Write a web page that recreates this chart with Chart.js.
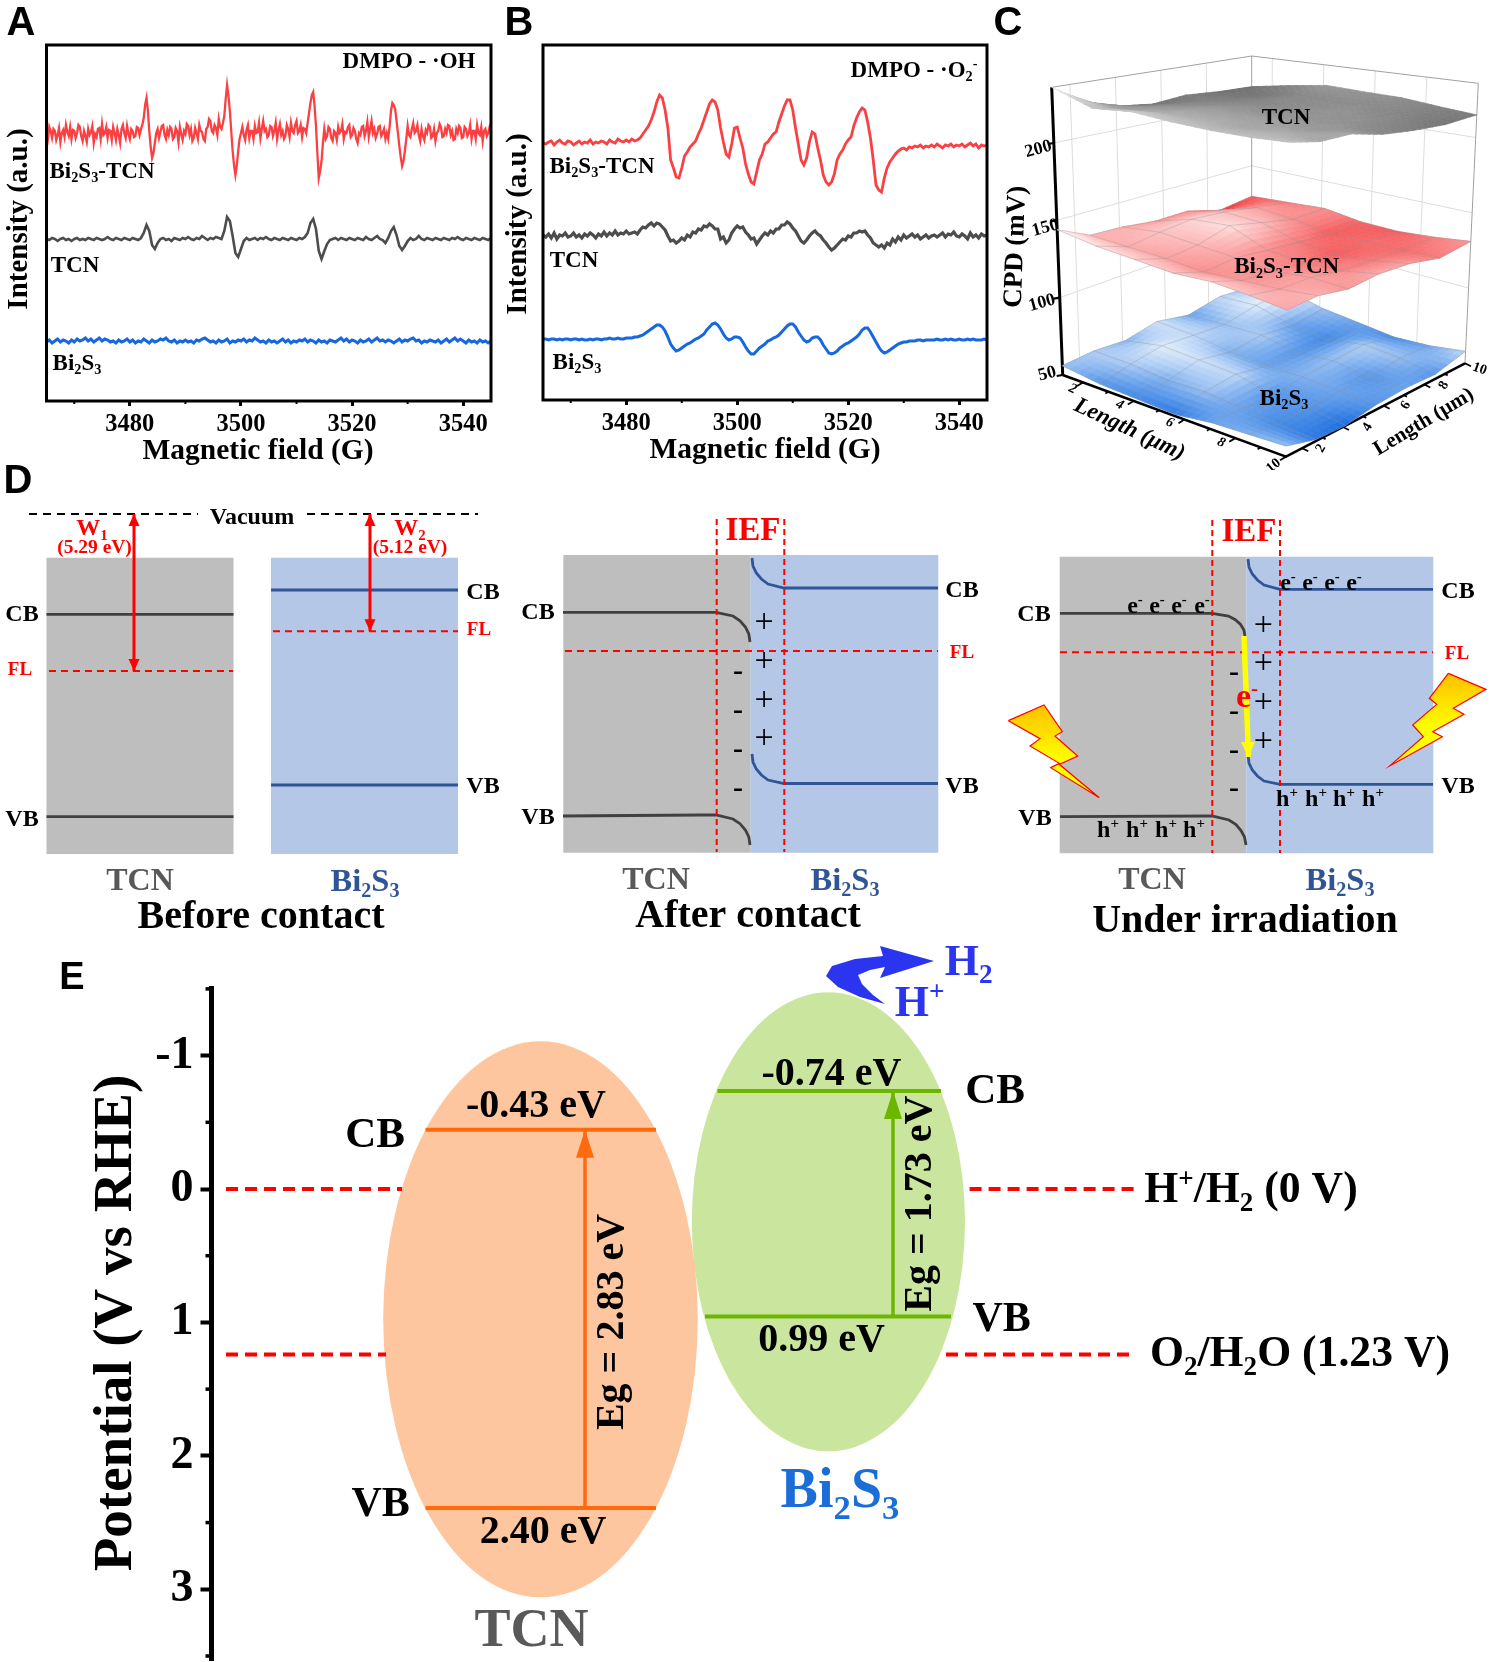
<!DOCTYPE html>
<html><head><meta charset="utf-8">
<script src="https://cdn.jsdelivr.net/npm/chart.js@4/dist/chart.umd.min.js"></script>
<style>html,body{margin:0;padding:0;background:#fff;width:1499px;height:1662px;overflow:hidden}canvas{position:absolute;display:block}</style>
</head><body>
<script>
// ---------- DATA: panel A & B (intensity in a.u., one value per fieldStep from 3465 G) ----------
const fieldStart = 3465, fieldStep = 0.5, fieldStepFine = 0.25;
const fieldTicks = [3480,3500,3520,3540];
const fieldMinorTicks = [3470,3490,3510,3530];
const aBiTcn = [268,262,274,270,263,272,270,261,266,273,259,268,271,264,276,269,265,274,262,271,
270,263,268,276,274,265,260,270,265,259,272,266,269,275,258,267,264,272,273,262,
277,266,268,274,263,271,270,261,274,268,261,272,266,258,272,276,268,263,275,267,
262,272,270,264,265,274,273,266,272,276,283,296,303,290,270,254,243,248,258,268,
272,263,269,275,276,266,262,271,266,274,272,262,264,273,270,259,274,267,261,270,
267,277,275,266,272,260,263,273,268,262,276,270,269,262,260,272,274,282,280,270,
268,276,273,266,282,274,272,278,285,302,316,305,290,270,250,236,226,236,250,262,
268,274,266,261,271,276,263,270,270,262,275,268,269,278,263,272,280,270,272,264,
266,275,274,265,270,278,262,271,277,266,270,262,265,276,272,264,278,270,268,276,
280,268,270,276,264,273,272,268,278,288,298,306,309,295,275,248,223,230,240,258,
272,262,265,274,272,263,260,270,268,261,274,268,270,277,262,269,268,274,276,264,
266,273,270,262,258,268,266,274,275,265,270,279,264,272,280,268,272,263,267,274,
275,265,268,272,262,268,262,274,290,298,296,292,280,268,255,244,235,240,250,262,
275,266,264,272,278,268,270,276,266,260,272,265,261,271,268,276,274,263,265,272,
260,268,270,277,274,264,265,272,268,276,275,266,270,261,262,272,268,275,273,263,
264,274,272,265,268,276,262,270,270,262,276,268,266,274,260,270,272,265,268,274,270];
const aTcn = [162,161,163,162,160,162,163,161,162,160,
162,163,161,162,161,163,162,161,163,162,
161,162,164,162,161,163,162,161,163,162,
161,163,162,161,163,168,176,170,156,152,
158,162,163,161,162,160,163,162,161,163,
162,164,162,161,163,162,165,163,161,163,
162,164,163,162,170,184,180,165,148,144,
152,160,163,161,162,163,161,163,162,164,
162,161,163,162,161,163,162,161,163,162,
161,163,162,164,168,178,182,172,150,142,
150,157,161,162,163,161,163,162,161,163,
162,161,163,162,161,164,162,161,163,165,
162,161,158,163,170,174,166,155,151,155,
160,163,161,162,165,162,161,163,162,161,
163,162,161,163,162,161,163,162,164,162,
161,163,162,161,163,162,161,163,162,161,163];
const aBi = [59,61,58,60,62,59,61,60,58,61,
59,62,60,61,63,60,62,59,61,63,
60,62,61,59,60,58,61,59,60,62,
59,61,58,60,59,62,60,58,61,59,
60,62,61,63,60,59,61,58,60,59,
61,59,60,58,61,60,62,63,61,59,
60,58,61,59,60,62,58,60,59,61,
60,62,59,61,60,63,61,59,60,58,
61,59,60,58,60,62,59,61,58,60,
59,61,60,62,59,61,60,58,61,59,
60,58,61,60,59,61,63,60,62,59,
61,60,58,61,59,60,62,59,61,63,
60,61,59,61,60,58,60,62,59,61,
60,62,63,60,61,58,60,59,61,60,
59,61,58,60,62,59,61,63,60,62,
60,58,61,59,60,58,61,59,60,58,60];
const bBiTcn = [257,256,258,259,255,258,260,257,256,259,
258,255,257,259,256,258,257,260,256,258,
257,259,258,256,260,258,257,261,259,258,
260,258,261,259,260,262,266,270,274,280,
288,298,305,302,290,272,240,232,223,222,
232,244,248,253,256,259,266,272,280,288,
296,300,298,290,272,258,246,243,256,272,
273,262,252,236,226,218,216,228,240,246,
256,258,262,266,268,278,286,294,300,300,
290,272,256,240,235,242,258,268,266,252,
240,225,218,215,218,226,240,246,250,256,
260,263,274,282,288,292,290,278,262,240,
215,210,208,222,232,238,242,246,249,251,
252,250,253,252,254,253,255,252,254,253,
255,253,256,254,252,255,254,256,253,255,
254,256,253,255,257,254,256,252,255,254,255];
const bTcn = [165,163,166,162,167,161,165,164,167,163,
164,167,163,165,162,166,164,167,165,162,
166,164,168,164,167,165,169,165,167,166,
169,166,167,168,166,170,173,172,175,177,
174,177,176,173,170,164,159,160,157,159,
162,160,165,163,168,167,171,170,174,173,
176,174,171,171,161,163,157,160,167,171,
174,172,173,168,165,161,162,156,160,164,
167,165,169,167,171,171,175,175,178,176,
172,169,164,159,157,160,164,167,169,166,
164,160,157,153,150,152,155,158,161,160,
164,163,167,167,169,168,169,165,162,157,
155,153,155,152,157,155,161,158,163,160,
165,162,164,166,163,165,161,163,165,162,
164,165,163,165,167,163,166,165,168,164,
163,166,164,161,167,163,165,162,166,164,165];
const bBi = [61,61,60,61,61,60,61,60,61,61,
60,61,61,60,61,60,60,61,60,61,
61,60,61,61,62,61,61,62,61,61,
62,62,62,63,63,64,65,67,69,71,
73,75,75,73,69,63,56,52,49,50,
52,54,56,57,59,61,62,64,66,70,
73,76,77,75,71,66,62,60,61,63,
63,62,58,53,49,46,46,49,52,54,
56,59,60,62,63,65,68,71,74,76,
76,73,68,64,60,58,59,62,63,63,
60,55,51,47,46,47,49,52,54,56,
57,59,61,63,66,70,72,72,68,63,
58,53,49,47,48,50,52,54,56,57,
58,58,59,59,59,60,60,59,60,60,
60,60,61,60,60,61,60,61,60,60,
61,60,60,61,60,61,60,60,60,61,60];

// ---------- DATA: panel C (CPD in mV on a 7x7 grid, rows along x, columns along y) ----------
const cTcn = [[236,223,216,213,215,213,212],[227,222,220,218,216,214,217],[229,224,222,220,218,218,221],[227,224,222,220,219,219,220],[226,223,222,220,220,219,219.5],[226,224,221,220,219,217,217],[227,223,223,218,215.5,214,215]];
const cBiTcn = [[144,134,133,130,130,123,126],[140,133,136,138,136,132,128],[138,132,134,140,135,130,130],[136,130,132,130,128,126,126.5],[137,131,130,128,126,127,126],[135,132,132,129,128,127,128],[132.5,134,131,133,132,128,131]];
const cBi = [[56,57,55,59,54,58,55],[53,57,60,58,56,60,61],[52,55,59,55,57,54,56],[51,56,58,54,53,52,54],[54,54,53,55,56,57,52],[55,52,53,54,53,56,54],[56,51,50,53,54,53,58]];
const cTicksZ = [50,100,150,200];
const cTicksLen = [2,3,4,5,6,7,8,9,10];

// ---------- DATA: panel D (schematic band levels) ----------
const dBefore = {tcnCB:614.3,tcnVB:816.7,tcnFL:671,biCB:590,biVB:785,biFL:631.3,vacuum:514};
const dAfterTcnCB=[[563,612.3],[716,612.3],[733,616],[740,620.8],[745.4,627],[748.8,634],[750,642]];
const dAfterTcnVB=[[563,816],[700,815],[716,815],[733,819],[740,823.7],[745.4,830],[748.8,837],[750,845]];
const dAfterBiCB=[[752,558],[753,566],[756.3,573],[761.4,579],[768,584],[784,588],[938,588]];
const dAfterBiVB=[[752,754],[753,762],[756.3,769],[761.4,775],[768,780],[784,783.5],[938,783.5]];
const dIrrTcnCB=[[1060,613.3],[1212,613.3],[1228.5,616],[1235.3,619.7],[1240.6,624.5],[1243.9,630],[1245,636]];
const dIrrTcnVB=[[1060,816.7],[1212,816],[1229,820],[1236,824.5],[1241,830.5],[1244.5,837],[1246,845]];
const dIrrBiCB=[[1248,559],[1249,567],[1252.3,574],[1257.4,580],[1264,585],[1280,589.3],[1433,589.3]];
const dIrrBiVB=[[1248,755],[1249,763],[1252.3,770],[1257.4,776],[1264,781],[1280,784.3],[1433,784.3]];

// ---------- DATA: panel E (potential vs RHE) ----------
const eTicks = [-1,0,1,2,3];
const eMinor = [-1.5,-0.5,0.5,1.5,2.5,3.5];
const eTcnCB = -0.445, eTcnVB = 2.39, eBiCB = -0.735, eBiVB = 0.956;
const eHydrogen = 0, eOxygen = 1.24;
const eTcnEllipse = [-1.107,3.06], eBiEllipse = [-1.475,1.966];

// ---------- helpers ----------
const SERIF='"Liberation Serif","Times New Roman",serif', SANS='"Liberation Sans",Arial,sans-serif';
const GREY='#595959', NAVY='#2f5597', RED='#ff0000';
const L=(arr,color,width,extra)=>Object.assign({data:arr.map(p=>({x:p[0],y:p[1]})),borderColor:color,borderWidth:width,pointRadius:0,fill:false,tension:0,clip:false,backgroundColor:'transparent'},extra||{});
function runs(s){const o=[];let b='';for(let i=0;i<s.length;i++){const c=s[i];if((c==='_'||c==='^')&&i+1<s.length){if(b){o.push({t:b,k:0});b='';}o.push({t:s[++i],k:c==='_'?1:2});}else b+=c;}if(b)o.push({t:b,k:0});return o;}
function drawText(ctx,a,ox,oy){
  const [s,x,y,size,opt={}]=a; const fam=opt.font||SERIF, pre=(opt.style||'')+' '+(opt.weight||'bold')+' ';
  const rs=runs(s); let w=0;
  for(const r of rs){r.size=r.k?size*0.62:size;ctx.font=pre+r.size+'px '+fam;r.w=ctx.measureText(r.t).width;w+=r.w;}
  ctx.save();ctx.translate(x-ox,y-oy);if(opt.rot)ctx.rotate(opt.rot*Math.PI/180);
  ctx.fillStyle=opt.color||'#000';ctx.textBaseline='alphabetic';ctx.textAlign='left';
  let cx=-w/2;const base=size*0.33;
  for(const r of rs){ctx.font=pre+r.size+'px '+fam;ctx.fillText(r.t,cx,base+(r.k===1?size*0.2:r.k===2?-size*0.36:0));cx+=r.w;}
  ctx.restore();
}
function canvasAt(x,y,w,h){const c=document.createElement('canvas');c.width=w;c.height=h;c.style.left=x+'px';c.style.top=y+'px';c.style.width=w+'px';c.style.height=h+'px';document.body.appendChild(c);return c;}
const baseOpts=()=>({responsive:false,animation:false,events:[],plugins:{legend:{display:false},tooltip:{enabled:false}},elements:{line:{capBezierPoints:false}}});
function hiddenScales(x,y,w,h){return {x:{type:'linear',display:false,min:x,max:x+w},y:{type:'linear',display:false,reverse:true,min:y,max:y+h}};}
function arrowsPlugin(){return {id:'arrows',afterDatasetsDraw(chart){const c=chart.ctx,X=chart.scales.x,Y=chart.scales.y;
  chart.data.datasets.forEach(d=>{
    if(d.poly){c.save();c.fillStyle=d.poly;c.beginPath();d.data.forEach((p,i)=>{const px=X.getPixelForValue(p.x),py=Y.getPixelForValue(p.y);i?c.lineTo(px,py):c.moveTo(px,py);});c.closePath();c.fill();c.restore();}
    if(!d.head)return;const pts=d.data;const tips=d.head.both?[[pts[0],pts[1]],[pts[pts.length-1],pts[pts.length-2]]]:[[pts[pts.length-1],pts[pts.length-2]]];
    for(const [t,f] of tips){const tx=X.getPixelForValue(t.x),ty=Y.getPixelForValue(t.y),fx=X.getPixelForValue(f.x),fy=Y.getPixelForValue(f.y);const ang=Math.atan2(ty-fy,tx-fx);
      c.save();c.translate(tx,ty);c.rotate(ang);c.fillStyle=d.borderColor;c.beginPath();c.moveTo(0,0);c.lineTo(-d.head.l,-d.head.w/2);c.lineTo(-d.head.l,d.head.w/2);c.closePath();c.fill();c.restore();}
  });}};}
function textPlugin(list,ox,oy){return {id:'texts',afterDatasetsDraw(chart){list.forEach(a=>drawText(chart.ctx,a,ox,oy));}};}

// ---------- panels A & B ----------
function epr(cfg){
  const cv=canvasAt(cfg.left,0,cfg.w,470);
  const toXY=(v,step)=>v.map((y,i)=>({x:fieldStart+i*step,y}));
  const tickFont={family:SERIF,size:24.5,weight:'bold'};
  const framePlugin={id:'frame',afterDatasetsDraw(chart){const c=chart.ctx,a=chart.chartArea,X=chart.scales.x;c.save();c.strokeStyle='#000';c.lineWidth=3;c.strokeRect(a.left,a.top,a.right-a.left,a.bottom-a.top);
    c.lineWidth=2;fieldMinorTicks.forEach(v=>{const p=X.getPixelForValue(v);c.beginPath();c.moveTo(p,a.bottom);c.lineTo(p,a.bottom+3);c.stroke();});c.restore();}};
  new Chart(cv,{type:'line',data:{datasets:[
    {label:'Bi2S3-TCN',data:toXY(cfg.red,cfg.redStep),borderColor:'#f94144',borderWidth:cfg.redWidth,pointRadius:0,tension:0},
    {label:'TCN',data:toXY(cfg.grey,fieldStep),borderColor:'#4d4d4d',borderWidth:cfg.greyWidth,pointRadius:0,tension:0},
    {label:'Bi2S3',data:toXY(cfg.blue,fieldStep),borderColor:'#1768e0',borderWidth:3,pointRadius:0,tension:0}]},
   options:Object.assign(baseOpts(),{layout:{padding:{top:45,right:cfg.right,left:0,bottom:0}},
    scales:{
     x:{type:'linear',min:3465,max:3545,afterBuildTicks:s=>{s.ticks=fieldTicks.map(v=>({value:v}));},afterFit:s=>{s.height=470-cfg.bottom;},
        border:{display:false},grid:{drawOnChartArea:false,tickLength:5,tickWidth:3,tickColor:'#000'},
        ticks:{color:'#000',font:tickFont,padding:4,autoSkip:false,maxRotation:0,callback:v=>String(v)}},
     y:{type:'linear',min:0,max:cfg.bottom-45,afterFit:s=>{s.width=cfg.plotLeft-cfg.left;},border:{display:false},grid:{display:false},ticks:{display:false}}
    }}),
   plugins:[framePlugin,textPlugin(cfg.texts,cfg.left,0)]});
}
epr({left:0,w:500,plotLeft:46.5,right:9,bottom:401,red:aBiTcn,redStep:fieldStepFine,redWidth:2.3,greyWidth:2.6,grey:aTcn,blue:aBi,texts:[
 ['A',21,21.5,40,{font:SANS}],
 ['Magnetic field (G)',258,449,29.5],['Intensity (a.u.)',17,219,29,{rot:-90}],
 ['DMPO - ·OH',409,60,23],['Bi_2S_3-TCN',102,170,23],['TCN',75,264,23],['Bi_2S_3',77,362,23]]});
epr({left:500,w:500,plotLeft:543,right:13,bottom:400,red:bBiTcn,redStep:fieldStep,redWidth:2.8,greyWidth:3.2,grey:bTcn,blue:bBi,texts:[
 ['B',519,22,40,{font:SANS}],
 ['Magnetic field (G)',765,448,29.5],['Intensity (a.u.)',516,224,29,{rot:-90}],
 ['DMPO - ·O_2^-',914,69,23],['Bi_2S_3-TCN',602,165,23],['TCN',574,259,23],['Bi_2S_3',577,361,23]]});

// ---------- panel C ----------
(function(){
 const ox=990,oy=0,w=509,h=470,cv=canvasAt(ox,oy,w,h);
 const zLo=50,zHi=236;
 const fl={L:[1062.7,375],F:[1286,456.7],R:[1465,363.3],B:[1251.7,293.3]};
 const tp={L:[1051.7,87.3],F:[1289,126.3],R:[1478.3,83.3],B:[1251.7,56]};
 const bil=(q,s,t,k)=>(1-s)*(1-t)*q.L[k]+s*(1-t)*q.F[k]+s*t*q.R[k]+(1-s)*t*q.B[k];
 const proj=(s,t,z)=>{const m=(z-zLo)/(zHi-zLo);return [bil(fl,s,t,0)*(1-m)+bil(tp,s,t,0)*m,bil(fl,s,t,1)*(1-m)+bil(tp,s,t,1)*m];};
 const lenS=v=>(v-1.2)/8.8;
 const hex=h=>[1,3,5].map(i=>parseInt(h.substr(i,2),16));
 const colorOf=(stops,z)=>{if(z<=stops[0][0])return stops[0][1];for(let i=1;i<stops.length;i++){if(z<=stops[i][0]){const f=(z-stops[i-1][0])/(stops[i][0]-stops[i-1][0]),a=hex(stops[i-1][1]),b=hex(stops[i][1]);return 'rgb('+a.map((v,k)=>Math.round(v+(b[k]-v)*f)).join(',')+')';}}return stops[stops.length-1][1];};
 const surfaces={
  blue:{z:cBi,stops:[[50,'#1b6fe0'],[54,'#6ba3ec'],[57,'#aecdf4'],[61,'#f2f7fd']]},
  red:{z:cBiTcn,stops:[[124,'#f23c40'],[128,'#f77c7c'],[134,'#fcb4b4'],[140,'#fde0e0'],[145,'#fff4f4']]},
  grey:{z:cTcn,stops:[[212,'#6e6e6e'],[219,'#8c8c8c'],[226,'#bdbdbd'],[236,'#f0f0f0']]}};
 const n=6,sub=5;
 function paint(chart,sf){const c=chart.ctx,X=chart.scales.x,Y=chart.scales.y,Z=sf.z;c.save();c.lineWidth=0.7;c.lineJoin='round';
  for(let i=0;i<n;i++)for(let j=n-1;j>=0;j--)for(let a=0;a<sub;a++)for(let b=sub-1;b>=0;b--){
    const zAt=(u,v)=>Z[i][j]*(1-u)*(1-v)+Z[i+1][j]*u*(1-v)+Z[i+1][j+1]*u*v+Z[i][j+1]*(1-u)*v;
    const cr=[[a,b],[a+1,b],[a+1,b+1],[a,b+1]].map(([p,q])=>{const u=p/sub,v=q/sub,P=proj((i+u)/n,(j+v)/n,zAt(u,v));return [X.getPixelForValue(P[0]),Y.getPixelForValue(P[1])];});
    const col=colorOf(sf.stops,zAt((a+.5)/sub,(b+.5)/sub));
    c.fillStyle=col;c.strokeStyle=col;c.beginPath();cr.forEach((p,k)=>k?c.lineTo(p[0],p[1]):c.moveTo(p[0],p[1]));c.closePath();c.fill();c.stroke();
  }c.restore();}
 const drawOrder=[];
 const wall='#dddddd',edge='#a0a0a0';
 cTicksZ.slice(1).forEach(z=>{drawOrder.push(L([proj(0,0,z),proj(0,1,z),proj(1,1,z)],wall,1));});
 [2,4,6,8].forEach(v=>{const q=lenS(v);drawOrder.push(L([proj(0,q,zLo+2),proj(0,q,zHi)],wall,1));drawOrder.push(L([proj(q,1,zLo+2),proj(q,1,zHi)],wall,1));});
 drawOrder.push(L([proj(0,0,zHi),proj(0,1,zHi),proj(1,1,zHi)],edge,1));
 drawOrder.push(L([proj(0,1,zLo),proj(0,1,zHi)],edge,1));
 drawOrder.push(L([proj(1,1,zLo),proj(1,1,zHi)],edge,1));
 drawOrder.push(L([proj(0,0,zLo),proj(0,0,zHi)],'#000',3));
 drawOrder.push(L([proj(0,0,zLo),proj(1,0,zLo),proj(1,1,zLo)],'#000',2.5));
 cTicksZ.forEach(z=>{const p=proj(0,0,z);drawOrder.push(L([[p[0]-6,p[1]+1],p],'#000',2.2));});
 cTicksLen.forEach(v=>{const q=lenS(v),e=v%2?3:6;let p=proj(q,0,zLo);drawOrder.push(L([p,[p[0]-e,p[1]+e*.6]],'#000',1.8));p=proj(1,q,zLo);drawOrder.push(L([p,[p[0]+e,p[1]+e*.5]],'#000',1.8));});
 function addSurface(sf,lines){
  const Z=sf.z,outline=[];
  for(let j=0;j<=n;j++)outline.push(proj(0,j/n,Z[0][j]));
  drawOrder.push(L(outline,'transparent',0,{paintSurface:sf}));
  if(lines){for(let i=0;i<=n;i++){const a=[],b=[];for(let j=0;j<=n;j++){a.push(proj(i/n,j/n,Z[i][j]));b.push(proj(j/n,i/n,Z[j][i]));}
    drawOrder.push(L(a,'rgba(140,140,140,0.42)',0.8));drawOrder.push(L(b,'rgba(140,140,140,0.42)',0.8));}}
 }
 addSurface(surfaces.blue,true);addSurface(surfaces.red,true);addSurface(surfaces.grey,false);
 const painter={id:'painter',beforeDatasetDraw(chart,args){const d=chart.data.datasets[args.index];if(d.paintSurface)paint(chart,d.paintSurface);}};
 const texts=[['C',1008,22,40,{font:SANS}],['TCN',1286,116.7,23],['Bi_2S_3-TCN',1286.7,265.7,23],['Bi_2S_3',1284,397,23],
  ['200',1038,148,18,{rot:-15}],['150',1045,226.7,18,{rot:-15}],['100',1041.7,301.7,18,{rot:-15}],['50',1047,372.7,18,{rot:-15}],
  ['CPD (mV)',1014,246.7,27,{rot:-88}],
  ['2',1073,388,14,{rot:25,style:'italic'}],['4',1120,404,14,{rot:25,style:'italic'}],['6',1170,421.7,14,{rot:25,style:'italic'}],['8',1221.7,441.7,14,{rot:25,style:'italic'}],['10',1273,465,14,{rot:-40}],
  ['2',1320,448,14,{rot:-60}],['4',1366.7,426.7,14,{rot:-60}],['6',1405,405,14,{rot:-60}],['8',1443,385,14,{rot:-60}],['10',1480,368,14,{rot:20}],
  ['Length (μm)',1130,428,23,{rot:25,style:'italic'}],['Length (μm)',1423,420.7,21,{rot:-31}]];
 new Chart(cv,{type:'line',data:{datasets:drawOrder.slice().reverse()},options:Object.assign(baseOpts(),{layout:{padding:0},scales:hiddenScales(ox,oy,w,h)}),plugins:[painter,textPlugin(texts,ox,oy)]});
})();

// ---------- panel D ----------
(function(){
 const ox=0,oy=460,w=1499,h=480,cv=canvasAt(ox,oy,w,h);
 const rect=(x0,x1,y0,y1,col)=>L([[x0,y0],[x1,y0],[x1,y1],[x0,y1],[x0,y0]],col,0,{fill:'shape',backgroundColor:col,borderColor:col});
 const G='#bebebe',B='#b4c7e7',LK='#404040',dash=[7,5],lw=2.8,rw=2;
 const D=[];
 D.push(rect(46.5,233.5,557.7,854,G),rect(271,458,557.7,854,B),rect(563.3,750.7,555,852.7,G),rect(750.7,938.3,555,852.7,B),rect(1059.7,1246.3,556.7,853.3,G),rect(1246.3,1433.3,556.7,853.3,B));
 const v=dBefore;
 D.push(L([[46.5,v.tcnCB],[233.5,v.tcnCB]],LK,lw),L([[46.5,v.tcnVB],[233.5,v.tcnVB]],LK,lw),L([[271,v.biCB],[458,v.biCB]],NAVY,lw),L([[271,v.biVB],[458,v.biVB]],NAVY,lw));
 D.push(L([[49,v.tcnFL],[233,v.tcnFL]],RED,rw,{borderDash:dash}),L([[273,v.biFL],[458,v.biFL]],RED,rw,{borderDash:dash}));
 D.push(L([[29,v.vacuum],[198,v.vacuum]],'#000',1.8,{borderDash:[8,6]}),L([[307,v.vacuum],[478,v.vacuum]],'#000',1.8,{borderDash:[8,6]}));
 D.push(L([[134,v.vacuum],[134,v.tcnFL]],RED,3,{head:{both:true,w:11,l:12}}),L([[370,v.vacuum],[370,v.biFL]],RED,3,{head:{both:true,w:11,l:12}}));
 D.push(L(dAfterTcnCB,LK,lw),L(dAfterTcnVB,LK,lw),L(dAfterBiCB,NAVY,lw),L(dAfterBiVB,NAVY,lw));
 D.push(L(dIrrTcnCB,LK,lw),L(dIrrTcnVB,LK,lw),L(dIrrBiCB,NAVY,lw),L(dIrrBiVB,NAVY,lw));
 D.push(L([[565,651],[938,651]],RED,rw,{borderDash:dash}),L([[1060,652.3],[1433,652.3]],RED,rw,{borderDash:dash}));
 [[716.7,519,852],[784.3,519,852],[1212.3,520,853],[1280,520,853]].forEach(a=>D.push(L([[a[0],a[1]],[a[0],a[2]]],RED,rw,{borderDash:[6,4]})));
 D.push(L([[1244,636],[1248.5,757]],'#ffff00',5.5,{head:{w:14,l:15}}));
 const boltGrad=(y0,y1)=>ctx=>{const c=ctx.chart.ctx;const g=c.createLinearGradient(0,y0-oy,0,y1-oy);g.addColorStop(0,'#ffc000');g.addColorStop(.6,'#ffff00');g.addColorStop(1,'#ffff00');return g;};
 const boltL=[[25,752],[132,705],[187,785],[165,798],[233,858],[178,883],[298,983],[152,893],[178,880],[90,828],[120,806],[25,752]].map(p=>[1000+p[0]/3,470+p[1]/3]);
 const boltR=[[1345,610],[1458,658],[1360,715],[1392,733],[1298,785],[1327,800],[1170,887],[1270,800],[1238,765],[1310,703],[1288,685],[1345,610]].map(p=>[1000+p[0]/3,470+p[1]/3]);
 D.push(L(boltL,RED,1.2,{fill:'shape',backgroundColor:boltGrad(705/3+470,983/3+470)}),L(boltR,RED,1.2,{fill:'shape',backgroundColor:boltGrad(610/3+470,887/3+470)}));
 const texts=[['D',18,480,40,{font:SANS}],
  ['Vacuum',252,516,24],['W_1',92,527,24,{color:RED}],['(5.29 eV)',94.5,547,19.5,{color:RED}],['W_2',410,527,24,{color:RED}],['(5.12 eV)',410,547,19.5,{color:RED}],
  ['CB',22,613,24],['VB',22,818,24],['FL',20,669,19,{color:RED}],['CB',483,591,24],['FL',479,629,19,{color:RED}],['VB',483,785,24],
  ['TCN',140,879,32,{color:GREY}],['Bi_2S_3',365,880,32.5,{color:NAVY}],['Before contact',261,915,40],
  ['IEF',753,529,33,{color:RED}],['CB',538,611,24],['VB',538,816,24],['CB',962,589,24],['VB',962,785,24],['FL',962,652,19,{color:RED}],
  ['TCN',656,878,32,{color:GREY}],['Bi_2S_3',845,879,32.5,{color:NAVY}],['After contact',748,914,40],
  ['IEF',1249,530,33,{color:RED}],['CB',1034,613,24],['VB',1035,817,24],['CB',1458,590,24],['VB',1458,785,24],['FL',1457,653,19,{color:RED}],
  ['TCN',1152,878,32,{color:GREY}],['Bi_2S_3',1340,879,32.5,{color:NAVY}],['Under irradiation',1245,919,40]];
 [[764,620],[764,659],[764,698],[764,736],[1263.3,623],[1263.3,661],[1263.3,700],[1263.3,739]].forEach(p=>texts.push(['+',p[0],p[1]+1,34,{weight:'normal'}]));
 [[738,674],[738,713],[738,752],[738,791],[1234,675],[1234,714],[1234,753],[1234,791]].forEach(p=>texts.push(['-',p[0],p[1]-4,30]));
 [1135,1157,1179,1202,1288,1310,1332,1354].forEach((x,i)=>texts.push(['e^-',x,i<4?605:581.7,24]));
 [1108,1137,1166,1194,1287,1316,1344,1373].forEach((x,i)=>texts.push(['h^+',x,i<4?829:798,24]));
 texts.push(['e^-',1247,696,34,{color:RED}]);
 new Chart(cv,{type:'line',data:{datasets:D.slice().reverse()},options:Object.assign(baseOpts(),{layout:{padding:0},scales:hiddenScales(ox,oy,w,h)}),plugins:[arrowsPlugin(),textPlugin(texts,ox,oy)]});
})();

// ---------- panel E ----------
(function(){
 const ox=0,oy=940,w=1499,h=722,cv=canvasAt(ox,oy,w,h);
 const axisX=211.5;
 const OR='#ff6a0d',GN='#6bb700',RD='#ff0000',dashE=[12,7];
 const D=[
  L([[425.5,eTcnCB],[656,eTcnCB]],OR,4),L([[425.5,eTcnVB],[656,eTcnVB]],OR,4),
  L([[717.5,eBiCB],[941,eBiCB]],GN,4),L([[705,eBiVB],[951,eBiVB]],GN,4),
  L([[585,eTcnVB],[585,eTcnCB]],OR,3.5,{head:{w:18,l:28}}),L([[893,eBiVB],[893,eBiCB]],GN,3.5,{head:{w:18,l:28}}),
  L([[226,eHydrogen],[402,eHydrogen]],RD,4,{borderDash:dashE}),L([[969.6,eHydrogen],[1137.5,eHydrogen]],RD,4,{borderDash:dashE}),
  L([[226,eOxygen],[386,eOxygen]],RD,4,{borderDash:dashE}),L([[946,eOxygen],[1135,eOxygen]],RD,4,{borderDash:dashE})];
 const curl=[[885,1004],[860,997],[838,987],[826,976],[832,966],[855,959],[883,956],[880,946],[934,961],[880,978],[885,967],[870,970],[858,975],[862,984],[873,995],[885,1004]].map(p=>[p[0],(p[1]-1188.9)/133.4]);
 D.push(L(curl,'transparent',0,{poly:'#2b35f0'}));
 const ell={id:'ellipses',beforeDatasetsDraw(chart){const c=chart.ctx,X=chart.scales.x,Y=chart.scales.y;
  [[828.4,136.6,eBiEllipse,'#cae69e'],[540.5,157.3,eTcnEllipse,'#fec69e']].forEach(([cx,rx,r,col])=>{const y0=Y.getPixelForValue(r[0]),y1=Y.getPixelForValue(r[1]);c.save();c.fillStyle=col;c.beginPath();c.ellipse(X.getPixelForValue(cx),(y0+y1)/2,rx,(y1-y0)/2,0,0,2*Math.PI);c.fill();c.restore();});
  c.save();c.strokeStyle='#000';c.lineWidth=3.5;eMinor.forEach(v=>{const p=Y.getPixelForValue(v);c.beginPath();c.moveTo(axisX-6,p);c.lineTo(axisX,p);c.stroke();});c.restore();}};
 const texts=[['E',72,976,38,{font:SANS}],
  ['Potential (V vs RHE)',113,1323,55,{rot:-90}],
  ['CB',375,1133,43],['-0.43 eV',536,1104,40],['VB',380.6,1502,42],['2.40 eV',543,1530,40],['Eg = 2.83 eV',610,1322,40,{rot:-90}],['TCN',531.6,1628,54,{color:GREY}],
  ['-0.74 eV',831.5,1072,40],['CB',995,1089,43],['0.99 eV',821.5,1338,40],['VB',1001.6,1317.5,42],['Eg = 1.73 eV',918,1203.6,40,{rot:-90}],['Bi_2S_3',840,1489,56,{color:'#1b6ed8'}],
  ['H^+',919.7,1001.6,44,{color:'#2b35f0'}],['H_2',968.6,960,44,{color:'#2b35f0'}],
  ['H^+/H_2 (0 V)',1251,1188,43.7],['O_2/H_2O (1.23 V)',1300,1352,43.7]];
 new Chart(cv,{type:'line',data:{datasets:D.slice().reverse()},options:Object.assign(baseOpts(),{layout:{padding:{top:48.9,bottom:2,left:0,right:0}},
  scales:{x:{type:'linear',display:false,min:axisX,max:1499},
   y:{type:'linear',reverse:true,min:-1.5,max:3.53,afterBuildTicks:s=>{s.ticks=eTicks.map(v=>({value:v}));},afterFit:s=>{s.width=axisX;s.paddingTop=0;s.paddingBottom=0;},
      border:{display:true,width:5,color:'#000'},grid:{drawOnChartArea:false,tickLength:11,tickWidth:4,tickColor:'#000'},
      ticks:{color:'#000',font:{family:SERIF,size:46,weight:'bold'},padding:7,autoSkip:false,callback:v=>String(v)}}}}),
  plugins:[ell,arrowsPlugin(),textPlugin(texts,ox,oy)]});
})();
</script>
</body></html>
